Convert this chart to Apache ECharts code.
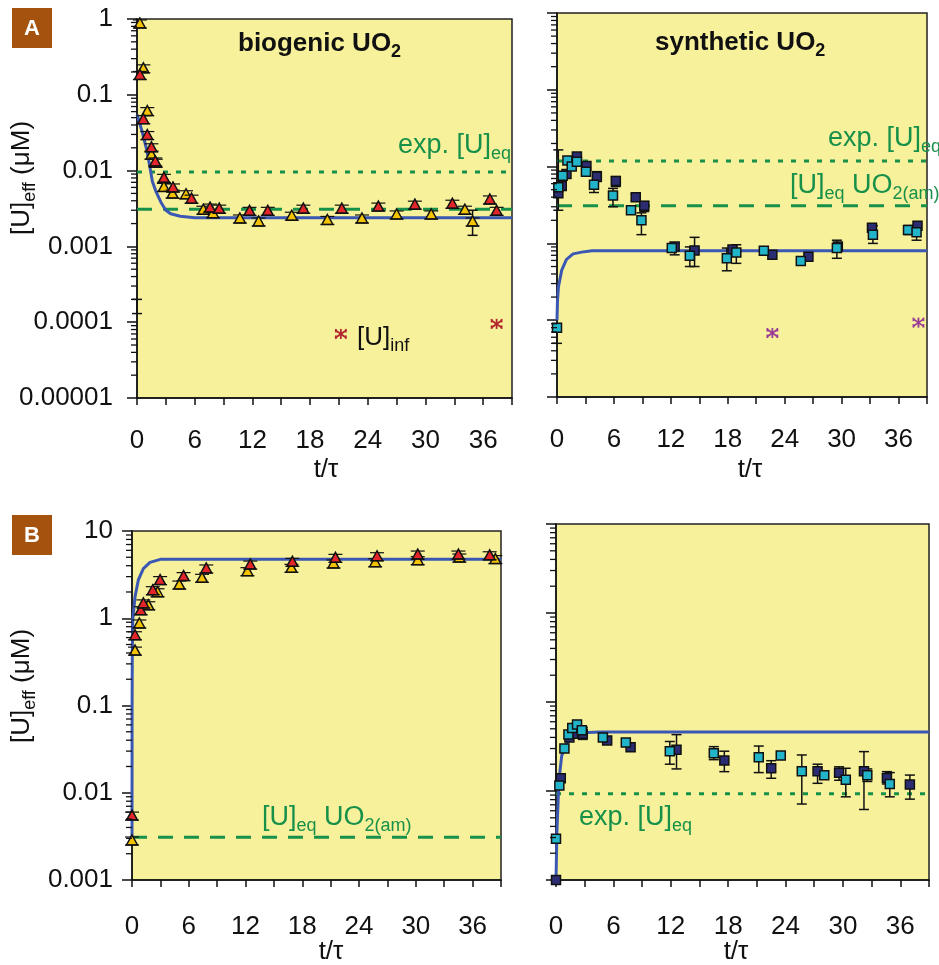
<!DOCTYPE html>
<html><head><meta charset="utf-8">
<script src="https://cdn.jsdelivr.net/npm/echarts@6/dist/echarts.min.js"></script>
<style>html,body{margin:0;padding:0;background:#fff}#c{width:939px;height:965px}</style>
</head><body><div id="c"></div>
<script>
// ---------------- DATA ----------------
// Panel A, biogenic UO2 (t/tau, [U]eff µM)
const aBioRed = [[0.3,0.18],[0.66,0.047],[1.07,0.029],[1.5,0.020],[1.9,0.013],[2.8,0.0079],[3.75,0.0059],[5.67,0.0042],[7.6,0.0032],[8.55,0.0031],[11.7,0.0029],[13.6,0.0029],[17.3,0.0031],[21.3,0.0031],[25.1,0.0033],[28.9,0.0035],[32.8,0.0036],[36.7,0.0041],[37.4,0.0029]];
const aBioYellow = [[0.3,0.86],[0.66,0.22],[1.07,0.060],[1.5,0.016],[1.95,0.0125],[2.8,0.006],[3.7,0.0049],[5.1,0.0048],[6.9,0.0030],[7.9,0.0027],[10.7,0.0023],[12.65,0.0021],[16.1,0.0025],[19.8,0.0022],[23.4,0.0023],[27.0,0.0026],[30.6,0.0026],[34.1,0.0030],[34.9,0.0021]];
const aBioErr = [[34.9,0.0014,0.0030],[0,0.00013,0.0002]];
const aBioInf = [[21.2,0.00007],[37.4,0.000095]];
const aBioFit = [[0,0.055],[0.5,0.034],[1.0,0.019],[1.3,0.012],[1.6,0.0072],[2.0,0.0052],[2.5,0.0038],[3.0,0.003],[3.5,0.0027],[4.5,0.0025],[6,0.00238],[39,0.00238]];
const aBioExpEq = 0.0096;
const aBioAmEq = 0.0031;

// Panel A, synthetic UO2
const aSynCyan = [[0,0.00008],[0.14,0.0054],[0.6,0.0076],[1.1,0.012],[1.55,0.010],[2.1,0.0116],[3.05,0.0086],[3.9,0.0058],[5.9,0.0042],[7.8,0.0027],[8.9,0.0020],[12.1,0.00087],[14.0,0.00069],[17.9,0.00064],[18.9,0.00076],[21.8,0.00080],[25.7,0.00059],[29.5,0.00087],[33.3,0.0013],[37.0,0.0015],[37.9,0.0014]];
const aSynNavy = [[0.14,0.0045],[0.5,0.0056],[1.0,0.0080],[2.1,0.0135],[3.1,0.0102],[4.2,0.0074],[6.2,0.0065],[8.3,0.0040],[9.2,0.0031],[12.4,0.00091],[14.5,0.00081],[18.5,0.00083],[22.7,0.00071],[26.5,0.00067],[29.6,0.00091],[33.2,0.0016],[37.1,0.0015],[38.0,0.0017]];
const aSynErr = [[0,0.00005,0.000087],[0.14,0.0027,0.0165],[0.5,0.005,0.0075],[2.1,0.0106,0.0149],[3.9,0.0046,0.0064],[4.2,0.0064,0.0086],[5.9,0.003,0.0052],[6.2,0.0055,0.0074],[8.3,0.0036,0.0044],[9.2,0.0026,0.0035],[8.9,0.0013,0.0025],[12.4,0.00071,0.001],[14.0,0.0005,0.0009],[14.5,0.0005,0.0012],[17.9,0.00044,0.00087],[18.9,0.00055,0.00096],[29.5,0.00064,0.0011],[33.3,0.001,0.0017],[37.9,0.0011,0.0017]];
const aSynInf = [[22.7,0.000068],[38.1,0.000093]];
const aSynFit = [[0,0.0001],[0.05,0.00018],[0.15,0.00027],[0.5,0.00045],[1,0.00062],[1.7,0.00073],[2.6,0.00077],[3.7,0.0008],[39,0.0008]];
const aSynExpEq = 0.0118;
const aSynAmEq = 0.0031;

// Panel B, biogenic UO2
const bBioRed = [[0,0.0054],[0.32,0.63],[0.92,1.22],[1.2,1.46],[2.2,2.07],[2.97,2.7],[5.45,3.0],[7.85,3.67],[12.5,4.07],[16.95,4.37],[21.5,4.86],[25.9,5.07],[30.2,5.3],[34.5,5.3],[37.8,5.2]];
const bBioYellow = [[0,0.0028],[0.32,0.42],[0.78,0.86],[1.73,1.39],[2.7,1.96],[5.0,2.4],[7.4,2.87],[12.2,3.42],[16.85,3.73],[21.3,4.19],[25.7,4.33],[30.2,4.57],[34.6,4.9],[38.4,4.7]];
const bBioFit = [[0,0.003],[0.01,0.1],[0.03,0.4],[0.08,0.95],[0.32,1.77],[0.67,2.75],[1.2,3.7],[1.9,4.37],[3.0,4.73],[39,4.73]];
const bBioAmEq = 0.0031;

// Panel B, synthetic UO2
const bSynCyan = [[0,0.0029],[0.35,0.0115],[0.88,0.030],[1.3,0.043],[1.7,0.051],[2.2,0.056],[2.7,0.048],[4.9,0.040],[7.3,0.035],[11.9,0.028],[16.5,0.0266],[21.2,0.024],[23.5,0.025],[25.7,0.0167],[28.05,0.015],[30.3,0.0134],[32.55,0.015],[34.9,0.012]];
const bSynNavy = [[0,0.001],[0.5,0.0139],[1.4,0.040],[1.83,0.044],[2.8,0.044],[5.35,0.037],[7.8,0.031],[12.6,0.029],[17.6,0.022],[22.5,0.018],[27.35,0.0167],[29.6,0.016],[32.2,0.0167],[34.6,0.014],[37.0,0.0118]];
const bSynErr = [[2.2,0.049,0.06],[2.8,0.038,0.052],[11.9,0.020,0.036],[12.6,0.0177,0.043],[16.5,0.0225,0.0315],[17.6,0.0165,0.028],[21.2,0.0161,0.032],[22.5,0.0139,0.0219],[25.7,0.00714,0.0254],[27.35,0.0122,0.02],[29.6,0.0132,0.0187],[30.3,0.0086,0.018],[32.2,0.0062,0.0277],[32.55,0.0128,0.0177],[34.6,0.012,0.0165],[34.9,0.0086,0.0161],[37.0,0.0081,0.0151]];
const bSynFit = [[0,0.001],[0.1,0.0036],[0.25,0.0093],[0.42,0.017],[0.6,0.025],[1.1,0.034],[1.83,0.041],[2.9,0.045],[4.5,0.046],[39,0.046]];
const bSynExpEq = 0.0093;

const xTicks = [0,6,12,18,24,30,36];
const yRangeA = [0.00001, 1];
const yRangeB = [0.001, 10];

// ---------------- STYLE ----------------
const FONT = '"Liberation Sans", Arial, Helvetica, sans-serif';
const BG = '#f8f19b';
const GREEN = '#17904a';
const BLUE = '#3a57b3';
const RED = '#e4262b', YEL = '#f4c300', CYAN = '#22b4c8', NAVY = '#2b2c72';
const XMAX = 39;

const grids = [
  {left:137, top:19, width:375, height:379},
  {left:557, top:13, width:370, height:384},
  {left:132, top:531, width:369, height:349},
  {left:556, top:524, width:373, height:356}
];

function fmtLog(v){
  const e = Math.round(Math.log10(v));
  if (e >= 0) return String(Math.round(v));
  return '0.' + '0'.repeat(-e-1) + '1';
}

const xAxes = grids.map((g,i)=>({
  type:'value', gridIndex:i, min:0, max:XMAX, interval:3,
  axisLine:{show:true, onZero:false, lineStyle:{color:'#111', width:1.5}},
  axisTick:{show:true, length:7, lineStyle:{color:'#111', width:1.5}},
  splitLine:{show:false},
  axisLabel:{show:true, interval:0, margin: i < 2 ? 30 : 34, color:'#111', fontSize:26, fontFamily:FONT,
    formatter: v => xTicks.indexOf(v) >= 0 ? String(v) : ''}
}));
const yAxes = grids.map((g,i)=>{
  const r = i < 2 ? yRangeA : yRangeB;
  return {
    type:'log', logBase:10, gridIndex:i, min:r[0], max:r[1],
    axisLine:{show:true, lineStyle:{color:'#111', width:1.5}},
    axisTick:{show:true, length:10, lineStyle:{color:'#111', width:1.5}},
    splitLine:{show:false},
    axisLabel:{show: i===0 || i===2, margin: i===0 ? 24 : 19, color:'#111', fontSize:26, fontFamily:FONT, formatter: fmtLog}
  };
});

// ----- renderers -----
const INK = '#111';
function triRender(color){
  return function(params, api){
    const p = api.coord([api.value(0), api.value(1)]);
    const x=p[0], y=p[1];
    return {type:'group', children:[
      {type:'line', shape:{x1:x-7,y1:y-4,x2:x+7,y2:y-4}, style:{stroke:INK, lineWidth:1.2}},
      {type:'polygon', shape:{points:[[x,y-6],[x-5.5,y+4],[x+5.5,y+4]]}, style:{fill:color, stroke:INK, lineWidth:1.5}},
      {type:'line', shape:{x1:x-7,y1:y+4,x2:x+7,y2:y+4}, style:{stroke:INK, lineWidth:1.2}}
    ]};
  };
}
function sqRender(color){
  return function(params, api){
    const p = api.coord([api.value(0), api.value(1)]);
    return {type:'rect', shape:{x:p[0]-4.5, y:p[1]-4.5, width:9, height:9}, style:{fill:color, stroke:INK, lineWidth:1.5}};
  };
}
function starRender(color){
  return function(params, api){
    const p = api.coord([api.value(0), api.value(1)]);
    const x=p[0], y=p[1], s=5;
    const st = {stroke:color, lineWidth:1.8};
    return {type:'group', children:[
      {type:'line', shape:{x1:x,y1:y-s,x2:x,y2:y+s}, style:st},
      {type:'line', shape:{x1:x-s,y1:y-s*0.7,x2:x+s,y2:y+s*0.7}, style:st},
      {type:'line', shape:{x1:x-s,y1:y+s*0.7,x2:x+s,y2:y-s*0.7}, style:st},
      {type:'line', shape:{x1:x-s,y1:y-s,x2:x-s,y2:y-s*0.3}, style:st},
      {type:'line', shape:{x1:x+s,y1:y-s,x2:x+s,y2:y-s*0.3}, style:st},
      {type:'line', shape:{x1:x-s,y1:y+s,x2:x-s,y2:y+s*0.3}, style:st},
      {type:'line', shape:{x1:x+s,y1:y+s,x2:x+s,y2:y+s*0.3}, style:st}
    ]};
  };
}
function errRender(params, api){
  const a = api.coord([api.value(0), api.value(1)]);
  const b = api.coord([api.value(0), api.value(2)]);
  const st = {stroke:INK, lineWidth:1.5};
  return {type:'group', children:[
    {type:'line', shape:{x1:a[0],y1:a[1],x2:b[0],y2:b[1]}, style:st},
    {type:'line', shape:{x1:a[0]-5,y1:a[1],x2:a[0]+5,y2:a[1]}, style:st},
    {type:'line', shape:{x1:b[0]-5,y1:b[1],x2:b[0]+5,y2:b[1]}, style:st}
  ]};
}
function minorTickRender(params, api){
  const p = api.coord([0, api.value(0)]);
  return {type:'line', shape:{x1:p[0]-6,y1:p[1],x2:p[0],y2:p[1]}, style:{stroke:INK, lineWidth:1.3}};
}
function minorTickValues(r){
  const out=[];
  for (let d=r[0]; d<r[1]*0.99; d*=10){ for (let k=2;k<=9;k++) out.push([d*k]); }
  return out;
}

const series = [];
function custom(gi, data, render, z){
  series.push({type:'custom', xAxisIndex:gi, yAxisIndex:gi, data, renderItem:render, clip:false, silent:true, z, encode:{x:0, y:1}});
}
function lineS(gi, data, color, type, z){
  series.push({type:'line', xAxisIndex:gi, yAxisIndex:gi, data, showSymbol:false, symbol:'none', silent:true, z,
    lineStyle:{color, width:3, type}, animation:false});
}
function hline(gi, v, type){ lineS(gi, [[0,v],[XMAX,v]], GREEN, type, 2); }
const DOT = [5,8], DASH = [15,11];

// A biogenic
hline(0, aBioExpEq, DOT); hline(0, aBioAmEq, DASH);
lineS(0, aBioFit, BLUE, 'solid', 3);
custom(0, aBioErr, errRender, 4);
custom(0, aBioYellow, triRender(YEL), 5);
custom(0, aBioRed, triRender(RED), 6);
custom(0, aBioInf, starRender('#b3262f'), 6);
// A synthetic
hline(1, aSynExpEq, DOT); hline(1, aSynAmEq, DASH);
lineS(1, aSynFit, BLUE, 'solid', 3);
custom(1, aSynErr, errRender, 4);
custom(1, aSynNavy, sqRender(NAVY), 5);
custom(1, aSynCyan, sqRender(CYAN), 6);
custom(1, aSynInf, starRender('#9a3a96'), 6);
// B biogenic
hline(2, bBioAmEq, DASH);
lineS(2, bBioFit, BLUE, 'solid', 3);
custom(2, bBioYellow, triRender(YEL), 5);
custom(2, bBioRed, triRender(RED), 6);
// B synthetic
hline(3, bSynExpEq, DOT);
lineS(3, bSynFit, BLUE, 'solid', 3);
custom(3, bSynErr, errRender, 4);
custom(3, bSynNavy, sqRender(NAVY), 5);
custom(3, bSynCyan, sqRender(CYAN), 6);
// minor log ticks
[0,1,2,3].forEach(gi => custom(gi, minorTickValues(gi<2?yRangeA:yRangeB), minorTickRender, 7));

// ----- texts -----
function rich(x, y, str, o){
  o = o || {};
  const fs = o.fs || 27, sfs = o.sfs || 18, color = o.color || '#111', fw = o.bold ? 'bold' : 'normal';
  return {type:'text', x, y, rotation: o.rot || 0, z:100, silent:true,
    style:{text:str, align:o.align||'left', verticalAlign:'middle', fill:color, fontFamily:FONT, fontSize:fs, fontWeight:fw,
      rich:{
        m:{fontSize:fs, fontFamily:FONT, fontWeight:fw, fill:color, lineHeight:fs+8},
        s:{fontSize:sfs, fontFamily:FONT, fontWeight:fw, fill:color, lineHeight:sfs, verticalAlign:'bottom'}
      }}};
}
function box(x,y,letter){
  return [{type:'rect', shape:{x, y, width:40, height:40}, style:{fill:'#a5520f'}, z:100},
          {type:'text', x:x+20, y:y+21, z:101, style:{text:letter, fill:'#fff', fontFamily:FONT, fontWeight:'bold', fontSize:22, align:'center', verticalAlign:'middle'}}];
}
const graphics = [].concat(
  box(12,8,'A'), box(12,515,'B'),
  [
    rich(238, 44, '{m|biogenic UO}{s|2}', {fs:26, sfs:18, bold:true}),
    rich(655, 43, '{m|synthetic UO}{s|2}', {fs:26, sfs:18, bold:true}),
    rich(398, 146, '{m|exp. [U]}{s|eq}', {color:GREEN}),
    rich(828, 139, '{m|exp. [U]}{s|eq}', {color:GREEN}),
    rich(790, 186, '{m|[U]}{s|eq}{m| UO}{s|2(am)}', {color:GREEN}),
    rich(262, 818, '{m|[U]}{s|eq}{m| UO}{s|2(am)}', {color:GREEN}),
    rich(579, 818, '{m|exp. [U]}{s|eq}', {color:GREEN}),
    rich(357, 338, '{m|[U]}{s|inf}', {fs:26}),
    rich(22, 178, '{m|[U]}{s|eff}{m| (μM)}', {fs:26, rot:Math.PI/2, align:'center'}),
    rich(22, 686, '{m|[U]}{s|eff}{m| (μM)}', {fs:26, rot:Math.PI/2, align:'center'}),
    rich(326, 470, '{m|t/τ}', {fs:26, align:'center'}),
    rich(750, 470, '{m|t/τ}', {fs:26, align:'center'}),
    rich(331, 952, '{m|t/τ}', {fs:26, align:'center'}),
    rich(736, 952, '{m|t/τ}', {fs:26, align:'center'})
  ]
);

const chart = echarts.init(document.getElementById('c'), null, {renderer:'canvas'});
chart.setOption({
  animation:false,
  backgroundColor:'#fff',
  grid: grids.map(g => Object.assign({show:true, backgroundColor:BG, borderColor:'#222', borderWidth:1.5, containLabel:false}, g)),
  xAxis: xAxes,
  yAxis: yAxes,
  series,
  graphic: graphics
});
</script></body></html>
